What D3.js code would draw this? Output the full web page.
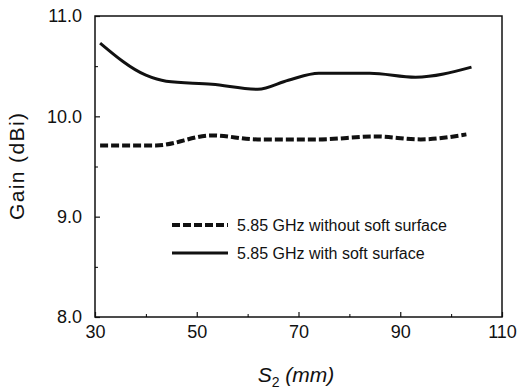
<!DOCTYPE html>
<html lang="en">
<head>
    <meta charset="UTF-8">
    <title>Gain vs S2</title>
    <script src="https://d3js.org/d3.v7.min.js"></script>
    <style>
        body { margin: 0; background: #fff; }
        svg { font-family: Arial, "Liberation Sans", sans-serif; }
        .tick text { font-size: 18px; fill: #111; }
    </style>
</head>
<body>
    <div id="chart"></div>

    <script>
        // data
        const withX = [31, 40, 44, 53, 62, 68, 74, 84, 93, 104];
        const withGain = [10.73, 10.41, 10.35, 10.32, 10.27, 10.36, 10.43, 10.43, 10.39, 10.49];
        const withoutX = [31, 42, 53, 62, 74, 85, 94, 103];
        const withoutGain = [9.71, 9.71, 9.81, 9.77, 9.77, 9.80, 9.77, 9.82];

        const xTicks = [30, 50, 70, 90, 110];
        const xMinor = [40, 60, 80, 100];
        const yTicks = [8.0, 9.0, 10.0, 11.0];
        const yMinor = [8.5, 9.5, 10.5];

        const legendLabels = ["5.85 GHz without soft surface", "5.85 GHz with soft surface"];

        const width = 522;
        const height = 391;
        const margin = {top: 16, right: 20, bottom: 74, left: 95};

        const svg = d3.select("#chart")
            .append("svg")
            .attr("width", width)
            .attr("height", height);

        const x = d3.scaleLinear()
            .domain([30, 110])
            .range([margin.left, width - margin.right]);

        const y = d3.scaleLinear()
            .domain([8, 11])
            .range([height - margin.bottom, margin.top]);

        // frame
        svg.append("rect")
            .attr("x", x(30))
            .attr("y", y(11))
            .attr("width", x(110) - x(30))
            .attr("height", y(8) - y(11))
            .attr("fill", "none")
            .attr("stroke", "#111")
            .attr("stroke-width", 1.5);

        // bottom axis, ticks pointing inward
        const xAxis = svg.append("g")
            .attr("transform", `translate(0, ${y(8)})`)
            .call(d3.axisBottom(x).tickValues(xTicks).tickFormat(d3.format("d"))
                .tickSizeInner(-5).tickSizeOuter(0).tickPadding(8));
        xAxis.select(".domain").remove();
        xAxis.selectAll(".tick line").attr("stroke", "#111").attr("stroke-width", 1.2);

        svg.append("g")
            .attr("transform", `translate(0, ${y(8)})`)
            .call(d3.axisBottom(x).tickValues(xMinor).tickFormat("").tickSizeInner(-3).tickSizeOuter(0))
            .call(g => g.select(".domain").remove());

        // left axis, ticks pointing inward
        const yAxis = svg.append("g")
            .attr("transform", `translate(${x(30)}, 0)`)
            .call(d3.axisLeft(y).tickValues(yTicks).tickFormat(d3.format(".1f"))
                .tickSizeInner(-5).tickSizeOuter(0).tickPadding(13));
        yAxis.select(".domain").remove();
        yAxis.selectAll(".tick line").attr("stroke", "#111").attr("stroke-width", 1.2);

        svg.append("g")
            .attr("transform", `translate(${x(30)}, 0)`)
            .call(d3.axisLeft(y).tickValues(yMinor).tickFormat("").tickSizeInner(-3).tickSizeOuter(0))
            .call(g => g.select(".domain").remove());

        // lines
        const line = d3.line()
            .x(d => x(d[0]))
            .y(d => y(d[1]))
            .curve(d3.curveMonotoneX);

        svg.append("path")
            .datum(withoutX.map((v, i) => [v, withoutGain[i]]))
            .attr("d", line)
            .attr("fill", "none")
            .attr("stroke", "#111")
            .attr("stroke-width", 4)
            .attr("stroke-dasharray", "8,3");

        svg.append("path")
            .datum(withX.map((v, i) => [v, withGain[i]]))
            .attr("d", line)
            .attr("fill", "none")
            .attr("stroke", "#111")
            .attr("stroke-width", 3);

        // legend
        const legend = svg.append("g").attr("transform", "translate(172, 225)");
        legendLabels.forEach((label, i) => {
            const row = legend.append("g").attr("transform", `translate(0, ${i * 28})`);
            row.append("line")
                .attr("x1", 0).attr("x2", 56)
                .attr("stroke", "#111")
                .attr("stroke-width", i === 0 ? 4 : 3)
                .attr("stroke-dasharray", i === 0 ? "8,3" : null);
            row.append("text")
                .attr("x", 65)
                .attr("y", 5.5)
                .attr("font-size", 16)
                .attr("fill", "#111")
                .text(label);
        });

        // axis titles
        svg.append("text")
            .attr("transform", `translate(24, ${(y(8) + y(11)) / 2}) rotate(-90)`)
            .attr("text-anchor", "middle")
            .attr("font-size", 21)
            .attr("textLength", 107)
            .attr("fill", "#111")
            .text("Gain (dBi)");

        const xt = svg.append("text")
            .attr("x", 296)
            .attr("y", 382)
            .attr("text-anchor", "middle")
            .attr("font-size", 21)
            .attr("font-style", "italic")
            .attr("fill", "#111");
        xt.append("tspan").text("S");
        xt.append("tspan").attr("dy", 5).attr("font-size", 14).attr("font-style", "normal").text("2");
        xt.append("tspan").attr("dy", -5).text(" (mm)");
    </script>
</body>
</html>
